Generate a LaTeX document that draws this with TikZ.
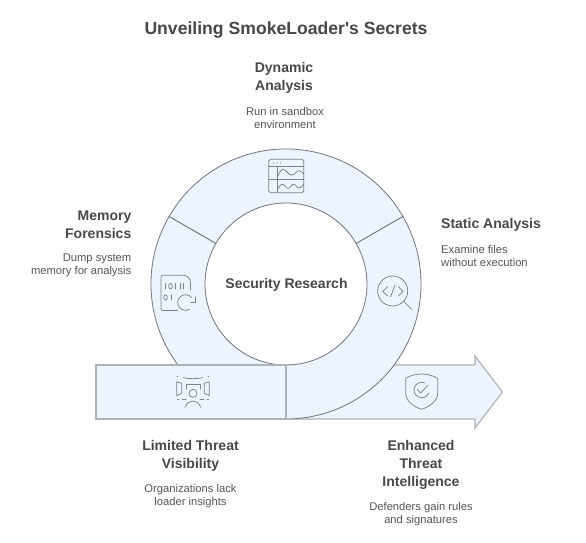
\documentclass[tikz,border=0pt]{standalone}
\usepackage{fontspec}
\setmainfont{Liberation Sans}
\newfontfamily\titlefam{Liberation Sans}
\definecolor{ringfill}{HTML}{EDF3FF}
\definecolor{ringline}{HTML}{6F7480}
\definecolor{barline}{HTML}{AEB2BA}
\definecolor{headtext}{HTML}{484848}
\definecolor{bodytext}{HTML}{555555}
\definecolor{iconline}{HTML}{7C818B}
\tikzset{
  ringseg/.style={fill=ringfill,draw=ringline,line width=0.8pt,line join=round},
  barshape/.style={fill=ringfill,draw=barline,line width=1.2pt,line join=miter},
  iconstroke/.style={draw=iconline,line width=0.75pt,line cap=round,line join=round},
  titletext/.style={font=\titlefam\fontsize{17.6}{22}\selectfont\bfseries,text=headtext,inner sep=0pt},
  headlabel/.style={font=\fontsize{14}{18}\selectfont\bfseries,text=headtext,inner sep=0pt},
  bodylabel/.style={font=\fontsize{11.2}{13}\selectfont,text=bodytext,inner sep=0pt},
}
\begin{document}
\begin{tikzpicture}[x=1pt,y=-1pt]
\useasboundingbox (0,0) rectangle (586,543);
\fill[white] (0,0) rectangle (586,543);
\coordinate (C) at (286,284);
% arrow
\path[barshape] (286,365) -- (475,365) -- (475,356) -- (502.5,392) -- (475,428) -- (475,419) -- (286,419) -- cycle;
% ring sectors (y axis points down, so screen angle a is written -a)
\path[ringseg] (356.15,243.5) -- (402.91,216.5) arc[start angle=-30,end angle=-150,radius=135] -- (215.85,243.5) arc[start angle=-150,end angle=-30,radius=81] -- cycle;
\path[ringseg] (215.85,243.5) -- (169.09,216.5) arc[start angle=-150,end angle=-270,radius=135] -- (286,365) arc[start angle=-270,end angle=-150,radius=81] -- cycle;
\path[ringseg] (356.15,243.5) -- (402.91,216.5) arc[start angle=-30,end angle=90,radius=135] -- (286,365) arc[start angle=90,end angle=-30,radius=81] -- cycle;
% bar
\path[barshape] (96,365) rectangle (286,419);
% dynamic icon
\draw[iconstroke] (270.5,159.3) -- (302,159.3) to[out=0,in=90] (303.7,161) -- (303.7,191) to[out=-90,in=0] (302,192.7) -- (270.5,192.7) to[out=180,in=-90] (268.7,191) -- (268.7,161) to[out=90,in=180] (270.5,159.3);
\draw[iconstroke] (268.7,166.7) -- (303.7,166.7) (268.7,179.3) -- (303.7,179.3) (277.3,166.7) -- (277.3,192.7);
\draw[iconstroke] (278,176) .. controls (281,168) and (284,168) .. (287,172) .. controls (290,176) and (293,176) .. (296,172.5) .. controls (298,170) and (301,170) .. (303.7,174);
\draw[iconstroke] (278,189) .. controls (280,184) and (283,183) .. (285,186) .. controls (287,189) and (289,189) .. (291,186) .. controls (293,183) and (295,184) .. (297,187) .. controls (299,189) and (302,187) .. (303.7,184);
\fill[iconline] (273.5,163) circle (0.6) (277,163) circle (0.6) (280.5,163) circle (0.6);
% memory icon
\draw[iconstroke] (178,310.5) -- (163,310.5) to[out=180,in=-90] (161,308.5) -- (161,277.5) to[out=90,in=180] (163,275.3) -- (183,275.3) .. controls (187,275.3) and (190.5,278) .. (190.5,283) -- (190.5,290);
\draw[iconstroke] (165.5,283.5) -- (165.5,289) (180,283.5) -- (180,289) (183,283.5) -- (183,289) (175.5,283.5) -- (175.5,289) (171,295) -- (171,300);
\draw[iconstroke] (170.5,286.2) ellipse[x radius=1.8,y radius=2.7];
\draw[iconstroke] (165.5,297.5) ellipse[x radius=1.8,y radius=2.7];
\draw[iconstroke] (191.5,297.5) arc[start angle=-40,end angle=-300,radius=7.8];
\draw[iconstroke] (195.7,296.7) -- (195.7,302.3) -- (190.7,302.3);
% lens icon
\draw[iconstroke] (392.7,291) circle (15);
\draw[iconstroke] (403.3,301) -- (411.7,309.3);
\draw[iconstroke] (387.7,286.7) -- (382.7,291.5) -- (387.7,296);
\draw[iconstroke] (398.3,286.7) -- (403,291.5) -- (398.3,296);
\draw[iconstroke] (395,285) -- (390.7,296.7);
% visibility icon
\draw[iconstroke] (183.3,377.7) .. controls (190,379) and (196,379) .. (202.7,377.7);
\draw[iconstroke] (177,376) -- (177.6,376) (208,376) -- (208.6,376);
\draw[iconstroke] (176.7,381.7) -- (181.7,383.3) -- (181.7,393.3) -- (176.7,395.7) -- cycle;
\draw[iconstroke] (209.3,381.7) -- (204.3,383.3) -- (204.3,393.3) -- (209.3,395.7) -- cycle;
\draw[iconstroke] (186,389) -- (186,384) -- (200,384) -- (200,389);
\draw[iconstroke] (193,393.3) circle (4);
\draw[iconstroke] (177.5,399.5) -- (179,399.5) (182,399.5) -- (186,399.5) (200,399.5) -- (204,399.5) (207,399.5) -- (208.5,399.5);
\draw[iconstroke] (185,407.3) .. controls (187,402.5) and (190,401) .. (193,401) .. controls (196,401) and (199,402.5) .. (200.7,407.3);
% shield icon
\draw[iconstroke] (405.7,378.3) .. controls (410,375.5) and (416,374) .. (421.7,374) .. controls (427,374) and (433,375.5) .. (437.7,378.3) -- (437.7,393) .. controls (437.7,401) and (430,406.5) .. (421.7,409.3) .. controls (413,406.5) and (405.7,401) .. (405.7,393) -- cycle;
\draw[iconstroke] (424.95,383) arc[start angle=-65,end angle=-335,radius=7.7];
\draw[iconstroke] (417.5,389.5) -- (420.7,393) -- (427.5,385.5);
% text
\node[titletext] (title) at (286,29.5) {Unveiling SmokeLoader's Secrets};
\node[headlabel,align=center] (dyn) at (284,78) {Dynamic\\Analysis};
\node[bodylabel,align=center] (dynb) at (285,118) {Run in sandbox\\environment};
\node[headlabel,anchor=west] (sta) at (441,225) {Static Analysis};
\node[bodylabel,align=left,anchor=west] (stab) at (441,256) {Examine files\\without execution};
\node[headlabel,align=right,anchor=east] (mem) at (131.5,224.5) {Memory\\Forensics};
\node[bodylabel,align=right,anchor=east] (memb) at (131.5,265) {Dump system\\memory for analysis};
\node[headlabel] (sec) at (286.5,285) {Security Research};
\node[headlabel,align=center] (lim) at (190.5,456) {Limited Threat\\Visibility};
\node[bodylabel,align=center] (limb) at (190.5,496) {Organizations lack\\loader insights};
\node[headlabel,align=center] (enh) at (421,465) {Enhanced\\Threat\\Intelligence};
\node[bodylabel,align=center] (enhb) at (421,514) {Defenders gain rules\\and signatures};
\end{tikzpicture}
\end{document}
